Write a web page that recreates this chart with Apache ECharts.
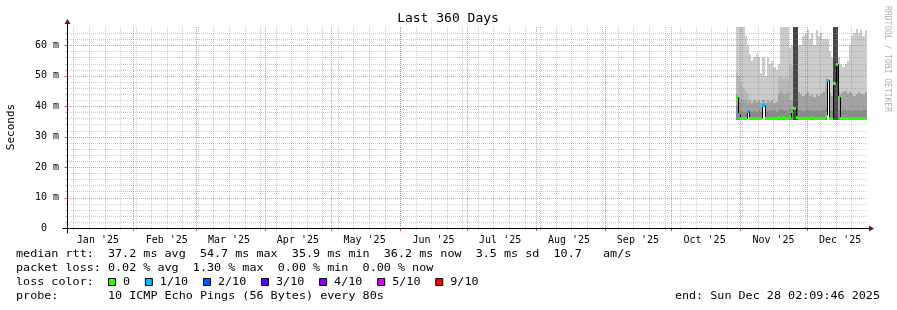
<!DOCTYPE html>
<html><head><meta charset="utf-8">
<script src="https://cdn.jsdelivr.net/npm/echarts@6/dist/echarts.min.js"></script>
<style>html,body{margin:0;padding:0;background:#fff}#c{width:897px;height:310px}</style>
</head><body><div id="c"></div>
<script>
// ---------------- data ----------------
const startDay = '2025-10-30';           // first day that has data (one value per day)
const smokeMax = [66,66,66,66,63,60,57,55,56,57, 56,51,56,50,56,54,55,53,52,54,
                  66,66,66,66,59,60,66,66,60,60, 63,64,65,62,64,60,65,63,64,62,
                  62,62,58,56,66,66,56,54,53,54, 55,60,63,64,65.5,64,65,63,65];
const smokeL2  = [51,50,48,46,45,44,42,41,42,41.5, 42,41,42,41,42,41.5,42,41,41.5,50,
                  50,49,50,49,54,53,44,44,44.5,44, 43.5,44,44.5,43.5,44,43,44,43.5,44,44.5,
                  50,49,44,43.5,44,44,44.5,44,44.5,45, 44,44.5,44,43.5,44,44.5,44,44,44.5];
const smokeL3  = [44,43,42.5,42,42,41.5,42,41,42,41.5, 42,41,42,41,42,41.5,42,41,41.5,44,
                  45,44,44,44.5,42,42,44,44,44.5,44, 43.5,44,44.5,43.5,44,43,44,43.5,44,44.5,
                  46,45,44,43.5,44,44,44.5,44,44.5,45, 44,44.5,44,43.5,44,44.5,44,44,44.5];
const smokeL4  = [40,39,38.5,38.2,38,38.3,38.5,38,38.4,38.2, 38.6,38,38.5,38.2,38.4,38.8,38.3,38.6,38.2,38.8,
                  39,38.6,38.8,38.5,39,39.2,39,38.8,38.6,38.9, 38.5,38.8,38.6,38.4,38.8,38.5,38.7,38.4,38.9,38.6,
                  39.5,39,38.6,38.8,39,39,38.8,38.5,38.7,38.9, 38.6,38.8,38.5,38.7,38.6,38.9,38.5,38.7,38.6];
const smokeMin = [35.5,35.5,35.5,35.5,35.5,38.5,35.5,35.5,35.5,35.5, 35.5,35.5,40.4,35.5,35.5,35.5,35.5,35.5,35.5,35.5,
                  35.5,35.5,35.5,35.5,35.5,35.5,35.5,35.5,35.5,35.5, 35.5,35.5,35.5,35.5,35.5,35.5,35.5,35.5,35.5,35.5,
                  35.5,48.6,35.5,35.5,35.5,35.5,35.5,35.5,35.5,35.5, 35.5,35.5,35.5,35.5,35.5,35.5,35.5,35.5,35.5];
const medianRtt = [43,37.4,36.1,36,36,38.5,36.1,36,36.2,36, 36.1,36,40.4,36.1,36,36.2,36,36.1,36,36.6,
                   36.2,36.4,36.1,36.2,36.3,38.3,39.5,36.5,36.1,36, 36.1,36,36.2,36,36.6,36.1,36,36.2,36,36.1,
                   37,48.6,36.1,36,47.6,54,43,36.1,36,36.2, 36,36.1,36,36.1,36,36.2,36,36.1,36.2];
const lossTenths = [0,1,0,0,0,1,0,0,0,0, 0,0,1,0,0,0,0,0,0,0,
                    0,0,0,0,0,0,0,0,0,0, 0,0,0,0,0,0,0,0,0,0,
                    0,1,0,0,0,0,0,0,0,0, 0,0,0,0,0,0,0,0,0];
const denseDays = ['2025-11-25','2025-11-26','2025-12-13','2025-12-14'];

const monthLabels = ["Jan '25","Feb '25","Mar '25","Apr '25","May '25","Jun '25",
                     "Jul '25","Aug '25","Sep '25","Oct '25","Nov '25","Dec '25"];
const yTickValues = [0,10,20,30,40,50,60];
const lossLegend = ['0','1/10','2/10','3/10','4/10','5/10','9/10'];
const lossColors = ['#26ff00','#00b8ff','#0059ff','#5e00ff','#7e00ff','#dd00ff','#ff0000'];
const rttStats  = ['37.2','54.7','35.9','36.2','3.5','10.7'];
const lossStats = ['0.02','1.30','0.00','0.00'];
const probeText = '10 ICMP Echo Pings (56 Bytes) every 80s';
const endText = 'end: Sun Dec 28 02:09:46 2025';
const titleText = 'Last 360 Days';

// ---------------- setup ----------------
const DAY = 86400000;
const Y_MAX = 66;
const endTime = Date.UTC(2025, 11, 28, 2, 9, 46);
const startTime = endTime - 360 * DAY;
const day0 = Date.parse(startDay + 'T00:00:00Z');
const denseSet = new Set(denseDays.map(d => Date.parse(d + 'T00:00:00Z')));
const monthTickTs = []; for (let m = 1; m < 12; m++) monthTickTs.push(Date.UTC(2025, m, 1));
const monthLabelTs = monthLabels.map((_, m) => Date.UTC(2025, m, 16));
const sundays = []; for (let t = Date.UTC(2025, 0, 5); t < endTime; t += 7 * DAY) sundays.push(t);

const FONT = "'DejaVu Sans Mono', 'Liberation Mono', monospace";
const smokeColors = ['#8a8a8a', '#a3a3a3', '#b9b9b9', '#cbcbcb'];
const denseColor = '#464646';
const minorGrid = 'rgba(140,140,140,0.45)';
const majorGrid = 'rgba(235,70,70,0.6)';

const smokeData = smokeMax.map((_, i) => {
  const t = day0 + i * DAY;
  return [t, smokeMin[i], smokeL4[i], smokeL3[i], smokeL2[i], smokeMax[i], denseSet.has(t) ? 1 : 0];
});
const medianData = medianRtt.map((v, i) => [day0 + i * DAY, v, lossTenths[i], i > 0 ? medianRtt[i - 1] : v]);

const chart = echarts.init(document.getElementById('c'), null, {renderer: 'canvas'});

function smokeItem(params, api) {
  const t = api.value(0);
  const xa = Math.round(api.coord([t, 0])[0]);
  const xb = Math.round(api.coord([t + DAY, 0])[0]);
  const v = [api.value(1), api.value(2), api.value(3), api.value(4), api.value(5)];
  const py = val => Math.round(api.coord([t, val])[1]);
  const children = [];
  if (api.value(6)) {
    children.push({type: 'rect', shape: {x: xa, y: py(v[4]), width: xb - xa, height: py(v[0]) - py(v[4])},
                   style: {fill: denseColor}});
  } else {
    for (let k = 0; k < 4; k++) {
      const lo = Math.max(v[0], v[k]);
      const hi = v[k + 1];
      if (hi > lo) {
        children.push({type: 'rect', shape: {x: xa, y: py(hi), width: xb - xa, height: py(lo) - py(hi)},
                       style: {fill: smokeColors[k]}});
      }
    }
  }
  return {type: 'group', children};
}

function medianItem(params, api) {
  const t = api.value(0);
  const xa = Math.round(api.coord([t, 0])[0]);
  const xb = Math.round(api.coord([t + DAY, 0])[0]);
  const y = Math.round(api.coord([t, api.value(1)])[1]) + 0.5;
  const yp = Math.round(api.coord([t, api.value(3)])[1]) + 0.5;
  const col = lossColors[api.value(2)];
  const diff = Math.abs(api.value(3) - api.value(1));
  const children = [];
  if (diff > 0.3) {
    children.push({type: 'line', shape: {x1: xa + 0.5, y1: yp, x2: xa + 0.5, y2: y},
                   style: {stroke: diff > 1 ? '#000' : col, lineWidth: 1}});
  }
  children.push({type: 'line', shape: {x1: xa, y1: y, x2: xb, y2: y}, style: {stroke: col, lineWidth: 3}});
  return {type: 'group', children};
}

const option = {
  animation: false,
  backgroundColor: '#ffffff',
  grid: {left: 67, right: 30, top: 27, bottom: 82, outerBoundsMode: 'none', containLabel: false},
  xAxis: {
    type: 'value', min: startTime, max: endTime, scale: true,
    axisLine: {show: false}, axisTick: {show: false}, splitLine: {show: false},
    axisLabel: {show: true, customValues: monthLabelTs, margin: 7,
                formatter: v => monthLabels[new Date(v).getUTCMonth()],
                fontFamily: FONT, fontSize: 10, color: '#000'}
  },
  yAxis: {
    type: 'value', min: 0, max: Y_MAX, interval: 10,
    axisLine: {show: false}, axisTick: {show: false}, splitLine: {show: false},
    axisLabel: {showMaxLabel: false, margin: 8, fontFamily: FONT, fontSize: 10, color: '#000',
                formatter: v => yTickValues.indexOf(v) < 0 ? '' : (v === 0 ? '0  ' : v + ' m')}
  },
  series: [{
    type: 'custom', name: 'smoke', z: 2, renderItem: smokeItem, data: smokeData,
    encode: {x: 0, y: [1, 2, 3, 4, 5]}, silent: true
  }, {
    type: 'custom', name: 'median', z: 8, renderItem: medianItem, data: medianData,
    encode: {x: 0, y: 1}, silent: true
  }]
};
chart.setOption(option);

// ---------------- grid, axes, decorations & legend text ----------------
const gx = v => chart.convertToPixel({xAxisIndex: 0}, v);
const gy = v => chart.convertToPixel({yAxisIndex: 0}, v);
const plotL = Math.round(gx(startTime)), plotR = Math.round(gx(endTime));
const plotB = Math.round(gy(0)), plotT = Math.round(gy(Y_MAX));
const axX = plotL + 0.5, axY = plotB + 0.5;
const g = [];
function gridLine(x1, y1, x2, y2, color) {
  return {type: 'line', z: 5, silent: true, shape: {x1, y1, x2, y2},
          style: {stroke: color, lineWidth: 1, lineDash: [1, 1]}};
}
function solid(x1, y1, x2, y2, color, z) {
  return {type: 'line', z: z || 20, silent: true, shape: {x1, y1, x2, y2}, style: {stroke: color, lineWidth: 1}};
}
// vertical grid: weeks (minor) and months (major)
sundays.forEach(t => {
  const x = Math.round(gx(t)) + 0.5;
  if (x > plotL + 1 && x < plotR) {
    g.push(gridLine(x, plotT, x, plotB, minorGrid));
    g.push(solid(x, plotB - 1, x, plotB + 2, '#b0b0b0'));
  }
});
monthTickTs.forEach(t => {
  const x = Math.round(gx(t)) + 0.5;
  g.push(gridLine(x, plotT, x, plotB, majorGrid));
  g.push(solid(x, plotB, x, plotB + 3, '#e04040'));
});
// horizontal grid: every 2 ms (minor), every 10 ms (major)
for (let v = 2; v < Y_MAX; v += 2) {
  const y = Math.round(gy(v)) + 0.5;
  const major = v % 10 === 0;
  g.push(gridLine(plotL, y, plotR, y, major ? majorGrid : minorGrid));
  g.push(solid(axX - (major ? 3 : 2), y, axX, y, major ? '#e04040' : '#b0b0b0'));
}
// axis lines with arrows
const arrowCol = '#7a1010';
g.push(solid(axX - 5, axY, plotR + 2, axY, '#000', 21));
g.push(solid(axX, axY + 5, axX, plotT - 4, '#000', 21));
g.push({type: 'polygon', z: 22, shape: {points: [[plotR + 2, axY - 3], [plotR + 2, axY + 3], [plotR + 7, axY]]}, style: {fill: arrowCol}});
g.push({type: 'polygon', z: 22, shape: {points: [[axX - 3, plotT - 3], [axX + 3, plotT - 3], [axX, plotT - 8]]}, style: {fill: arrowCol}});

const ADV = 7.07, SC = ADV / 6.62;  // rrdtool legend character pitch
function txt(text, x, y, opts) {
  opts = opts || {};
  return {type: 'text', z: 30, x, y, rotation: opts.rot || 0, scaleX: opts.sc || 1,
          style: {text, font: (opts.size || 11) + 'px ' + FONT, fill: opts.fill || '#000',
                  textAlign: opts.align || 'left', textVerticalAlign: 'middle'}};
}
g.push(txt(titleText, 448, 19, {size: 13, align: 'center'}));
g.push(txt('Seconds', 11, 127, {size: 11, align: 'center', rot: Math.PI / 2}));
g.push(txt('RRDTOOL / TOBI OETIKER', 887, 59, {size: 8, align: 'center', rot: -Math.PI / 2, fill: '#b0b0b0'}));

const line1 = 'median rtt:  ' + rttStats[0] + ' ms avg  ' + rttStats[1] + ' ms max  ' + rttStats[2] + ' ms min  ' +
              rttStats[3] + ' ms now  ' + rttStats[4] + ' ms sd  ' + rttStats[5] + '   am/s';
const line2 = 'packet loss: ' + lossStats[0] + ' % avg  ' + lossStats[1] + ' % max  ' + lossStats[2] + ' % min  ' +
              lossStats[3] + ' % now';
g.push(txt(line1, 16, 254.5, {sc: SC}));
g.push(txt(line2, 16, 268.5, {sc: SC}));
g.push(txt('loss color:', 16, 282.5, {sc: SC}));
g.push(txt('probe:       ' + probeText, 16, 296.5, {sc: SC}));
g.push(txt(endText, 880, 296.5, {sc: SC, align: 'right'}));
let bx = 108;
lossLegend.forEach((lab, k) => {
  g.push({type: 'rect', z: 30, shape: {x: bx + 0.5, y: 278.5, width: 7, height: 7},
          style: {fill: lossColors[k], stroke: '#000', lineWidth: 1}});
  g.push(txt(lab, bx + 15, 282.5, {sc: SC}));
  bx += 15 + lab.length * ADV + 14.8;
});
chart.setOption({graphic: g});
</script>
</body></html>
